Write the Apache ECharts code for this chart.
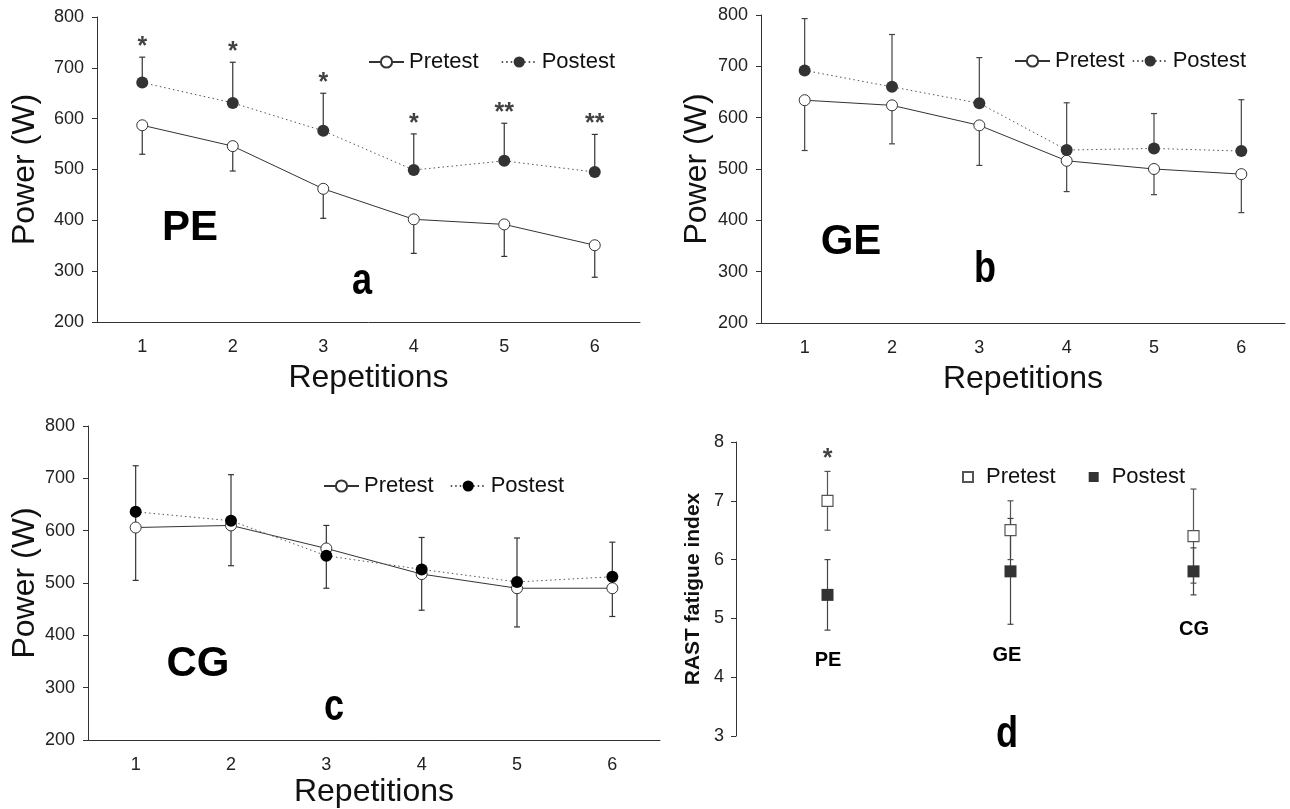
<!DOCTYPE html>
<html>
<head>
<meta charset="utf-8">
<title>Power output and RAST fatigue index</title>
<script src="https://cdn.jsdelivr.net/npm/echarts@6/dist/echarts.min.js"></script>
<style>
  html, body { margin: 0; padding: 0; background: #fff; }
  #main { width: 1290px; height: 809px; }
</style>
</head>
<body>
<div id="main"></div>
<script>
// categories
const reps = ['1', '2', '3', '4', '5', '6'];
const groups = ['PE', 'GE', 'CG'];

// a - PE group, power (W)
const pePre = [587, 546, 462, 402, 392, 351];
const pePreLow = [530, 497, 404, 335, 329, 288];
const pePost = [671, 631, 576, 499, 517, 495];
const pePostHigh = [721, 711, 650, 570, 591, 569];
const peStars = ['*', '*', '*', '*', '**', '**'];

// b - GE group
const gePre = [634, 624, 585, 516, 500, 490];
const gePreLow = [536, 549, 507, 456, 450, 415];
const gePost = [692, 660, 628, 537, 540, 535];
const gePostHigh = [793, 762, 717, 629, 608, 635];

// c - CG group (bars span low..high)
const cgPre = [606, 610, 566, 517, 490, 490];
const cgPost = [636, 619, 552, 526, 502, 512];
const cgLow = [505, 533, 490, 448, 416, 436];
const cgHigh = [724, 707, 610, 587, 586, 578];

// d - RAST fatigue index
const rastPre = [7.0, 6.5, 6.4];
const rastPreLow = [6.5, 6.0, 5.6];
const rastPreHigh = [7.5, 7.0, 7.2];
const rastPost = [5.4, 5.8, 5.8];
const rastPostLow = [4.8, 4.9, 5.4];
const rastPostHigh = [6.0, 6.7, 6.2];
const rastStars = ['*', '', ''];

// axis ranges
const powerMin = 200, powerMax = 800, powerStep = 100;
const rastMin = 3, rastMax = 8, rastStep = 1;

const FONT = "'Liberation Sans', Arial, sans-serif";
const AXIS = '#333';

const chart = echarts.init(document.getElementById('main'));

// vertical error bar with small caps at both ends
function errBar(color) {
  return function (params, api) {
    const a = api.coord([api.value(0), api.value(1)]);
    const b = api.coord([api.value(0), api.value(2)]);
    const w = 3;
    const st = { stroke: color, lineWidth: 1.2 };
    return {
      type: 'group',
      children: [
        { type: 'line', shape: { x1: a[0], y1: a[1], x2: b[0], y2: b[1] }, style: st },
        { type: 'line', shape: { x1: a[0] - w, y1: a[1], x2: a[0] + w, y2: a[1] }, style: st },
        { type: 'line', shape: { x1: b[0] - w, y1: b[1], x2: b[0] + w, y2: b[1] }, style: st }
      ]
    };
  };
}

function pairs(lo, hi) {
  return lo.map((v, i) => [i, v, hi[i]]);
}

function errSeries(idx, data, color) {
  return {
    type: 'custom', xAxisIndex: idx, yAxisIndex: idx, z: 1, silent: true,
    renderItem: errBar(color), encode: { x: 0, y: [1, 2] }, data: data
  };
}

function preLine(idx, name, data) {
  return {
    name: name, type: 'line', xAxisIndex: idx, yAxisIndex: idx, z: 3,
    data: data, symbol: 'circle', symbolSize: 11,
    itemStyle: { color: '#fff', borderColor: '#333', borderWidth: 1 },
    lineStyle: { color: '#333', width: 1 }
  };
}

function postLine(idx, name, data, fill) {
  return {
    name: name, type: 'line', xAxisIndex: idx, yAxisIndex: idx, z: 4,
    data: data, symbol: 'circle', symbolSize: 12,
    itemStyle: { color: fill, borderColor: fill, borderWidth: 0 },
    lineStyle: { color: '#555', width: 1, type: [1.5, 3] }
  };
}

function starSeries(idx, high, stars, offset) {
  return {
    type: 'scatter', xAxisIndex: idx, yAxisIndex: idx, z: 5, silent: true,
    symbolSize: 1, itemStyle: { color: 'rgba(0,0,0,0)' },
    data: high.map((v, i) => [i, v]),
    label: {
      show: true, position: 'top', distance: 0, offset: [0, offset],
      formatter: p => stars[p.dataIndex],
      fontFamily: FONT, fontWeight: 'bold', fontSize: 25, color: '#111'
    }
  };
}

function xAxisPower(idx, gap) {
  return {
    type: 'category', gridIndex: idx, data: reps, boundaryGap: true,
    name: 'Repetitions', nameLocation: 'middle', nameGap: gap,
    nameTextStyle: { fontFamily: FONT, fontSize: 32, color: '#111' },
    axisLine: { lineStyle: { color: AXIS, width: 1 } },
    axisTick: { length: 5, lineStyle: { color: AXIS } },
    axisLabel: { fontFamily: FONT, fontSize: 18, color: '#222', margin: 16 },
    splitLine: { show: false }
  };
}

function yAxisPower(idx, gap) {
  return {
    type: 'value', gridIndex: idx, min: powerMin, max: powerMax, interval: powerStep,
    name: 'Power (W)', nameLocation: 'middle', nameGap: gap, nameRotate: 90,
    nameTextStyle: { fontFamily: FONT, fontSize: 32, color: '#111' },
    axisLine: { show: true, lineStyle: { color: AXIS, width: 1 } },
    axisTick: { show: true, length: 5, lineStyle: { color: AXIS } },
    axisLabel: { fontFamily: FONT, fontSize: 18, color: '#222', margin: 13 },
    splitLine: { show: false }
  };
}

function legendFor(names, left, top, gap) {
  return {
    data: names, left: left, top: top, itemGap: gap,
    itemWidth: 35, itemHeight: 14, selectedMode: false,
    formatter: n => n.slice(1),
    textStyle: { fontFamily: FONT, fontSize: 22, color: '#111' }
  };
}

// big bold annotation, optionally squeezed horizontally
function bigText(text, x, y, size, squeeze) {
  return {
    type: 'text', x: x, y: y, scaleX: squeeze || 1, silent: true,
    style: {
      text: text, fill: '#000', align: 'center', verticalAlign: 'middle',
      font: 'bold ' + size + 'px ' + FONT
    }
  };
}

const option = {
  animation: false,
  backgroundColor: '#fff',
  grid: [
    { left: 97, top: 17, width: 543, height: 305, outerBoundsMode: 'none' },
    { left: 761, top: 15, width: 524, height: 308, outerBoundsMode: 'none' },
    { left: 88, top: 426, width: 572, height: 314, outerBoundsMode: 'none' },
    { left: 736, top: 442, width: 549, height: 294, outerBoundsMode: 'none' }
  ],
  xAxis: [
    xAxisPower(0, 40),
    xAxisPower(1, 40),
    xAxisPower(2, 36),
    { type: 'category', gridIndex: 3, data: groups, boundaryGap: true, show: false }
  ],
  yAxis: [
    yAxisPower(0, 56),
    yAxisPower(1, 48),
    yAxisPower(2, 47),
    {
      type: 'value', gridIndex: 3, min: rastMin, max: rastMax, interval: rastStep,
      name: 'RAST fatigue index', nameLocation: 'middle', nameGap: 32, nameRotate: 90,
      nameTextStyle: { fontFamily: FONT, fontSize: 21, fontWeight: 'bold', color: '#111' },
      axisLine: { show: true, lineStyle: { color: AXIS, width: 1 } },
      axisTick: { show: true, length: 5, lineStyle: { color: AXIS } },
      axisLabel: { fontFamily: FONT, fontSize: 18, color: '#222', margin: 12 },
      splitLine: { show: false }
    }
  ],
  legend: [
    legendFor(['aPretest', 'aPostest'], 363, 46, 22),
    legendFor(['bPretest', 'bPostest'], 1009, 45, 7),
    legendFor(['cPretest', 'cPostest'], 318, 470, 16),
    {
      data: ['dPretest', 'dPostest'], left: 957, top: 461, itemGap: 33,
      itemWidth: 10, itemHeight: 10, selectedMode: false,
      formatter: n => n.slice(1),
      textStyle: { fontFamily: FONT, fontSize: 22, color: '#111', padding: [0, 0, 0, 8] }
    }
  ],
  series: [
    // a
    errSeries(0, pairs(pePreLow, pePre), '#333'),
    errSeries(0, pairs(pePost, pePostHigh), '#333'),
    preLine(0, 'aPretest', pePre),
    postLine(0, 'aPostest', pePost, '#333'),
    starSeries(0, pePostHigh, peStars, 3),
    // b
    errSeries(1, pairs(gePreLow, gePre), '#444'),
    errSeries(1, pairs(gePost, gePostHigh), '#444'),
    preLine(1, 'bPretest', gePre),
    postLine(1, 'bPostest', gePost, '#333'),
    // c
    errSeries(2, pairs(cgLow, cgHigh), '#333'),
    preLine(2, 'cPretest', cgPre),
    postLine(2, 'cPostest', cgPost, '#000'),
    // d
    errSeries(3, pairs(rastPreLow, rastPreHigh), '#555'),
    errSeries(3, pairs(rastPostLow, rastPostHigh), '#444'),
    {
      name: 'dPretest', type: 'scatter', xAxisIndex: 3, yAxisIndex: 3, z: 3,
      symbol: 'rect', symbolSize: 11, data: rastPre.map((v, i) => [i, v]),
      itemStyle: { color: '#fff', borderColor: '#555', borderWidth: 1.2, opacity: 1 }
    },
    {
      name: 'dPostest', type: 'scatter', xAxisIndex: 3, yAxisIndex: 3, z: 4,
      symbol: 'rect', symbolSize: 12, data: rastPost.map((v, i) => [i, v]),
      itemStyle: { color: '#333', opacity: 1 }
    },
    starSeries(3, rastPreHigh, rastStars, 1)
  ],
  graphic: [
    bigText('PE', 190, 228, 42),
    bigText('a', 362, 282, 44, 0.82),
    bigText('GE', 851, 242, 42),
    bigText('b', 985, 270, 44, 0.82),
    bigText('CG', 198, 664, 42),
    bigText('c', 334, 708, 44, 0.82),
    bigText('d', 1007, 735, 44, 0.82),
    bigText('PE', 828, 660, 20),
    bigText('GE', 1007, 655, 20),
    bigText('CG', 1194, 629, 20)
  ]
};

chart.setOption(option);
</script>
</body>
</html>
